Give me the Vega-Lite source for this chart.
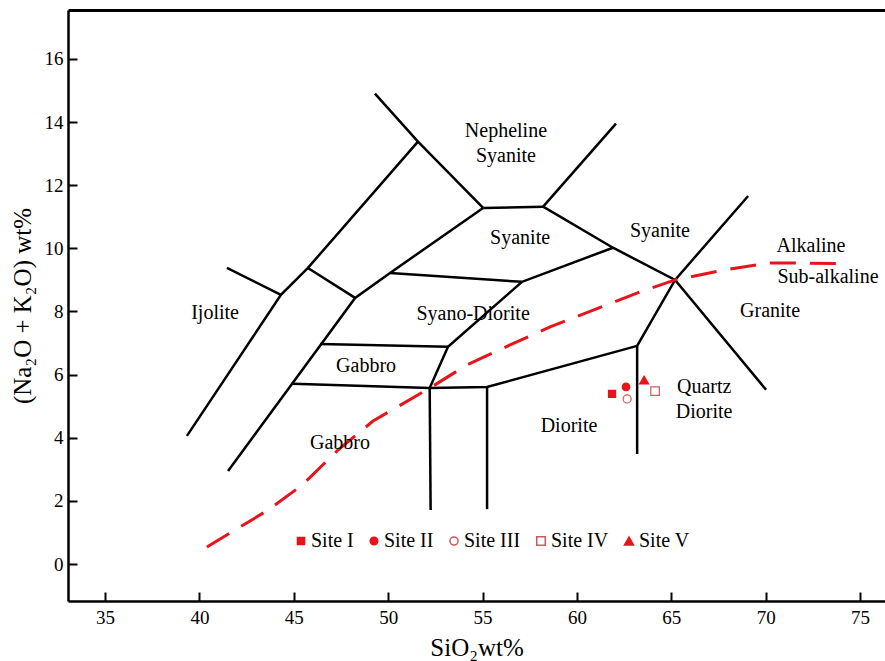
{
  "$schema": "https://vega.github.io/schema/vega-lite/v6.json",
  "width": 817,
  "height": 591,
  "autosize": {"type": "none"},
  "padding": {"left": 68, "top": 10, "right": 0, "bottom": 60},
  "background": "white",
  "config": {
    "view": {"stroke": null},
    "font": "Liberation Serif",
    "axis": {
      "grid": false,
      "domainColor": "black",
      "domainWidth": 2.5,
      "tickColor": "black",
      "tickWidth": 2,
      "labelColor": "black",
      "labelFont": "Liberation Serif",
      "labelFontSize": 19,
      "titleFont": "Liberation Serif",
      "titleFontWeight": "normal",
      "titleColor": "black",
      "titleFontSize": 25
    },
    "legend": {
      "labelFont": "Liberation Serif",
      "labelFontSize": 20,
      "labelColor": "black"
    }
  },
  "datasets": {
    "bounds": [
      {"g": "L1", "o": 1, "x": 39.34, "y": 4.06},
      {"g": "L1", "o": 2, "x": 44.32, "y": 8.53},
      {"g": "L1", "o": 3, "x": 45.75, "y": 9.38},
      {"g": "L1", "o": 4, "x": 51.58, "y": 13.38},
      {"g": "L2", "o": 1, "x": 41.46, "y": 9.38},
      {"g": "L2", "o": 2, "x": 44.32, "y": 8.53},
      {"g": "L3", "o": 1, "x": 45.75, "y": 9.38},
      {"g": "L3", "o": 2, "x": 48.25, "y": 8.43},
      {"g": "L4", "o": 1, "x": 41.52, "y": 2.95},
      {"g": "L4", "o": 2, "x": 48.25, "y": 8.43},
      {"g": "L4", "o": 3, "x": 50.10, "y": 9.22},
      {"g": "L4", "o": 4, "x": 55.03, "y": 11.28},
      {"g": "L5", "o": 1, "x": 49.30, "y": 14.90},
      {"g": "L5", "o": 2, "x": 51.58, "y": 13.38},
      {"g": "L5", "o": 3, "x": 55.03, "y": 11.28},
      {"g": "L6", "o": 1, "x": 55.03, "y": 11.28},
      {"g": "L6", "o": 2, "x": 58.21, "y": 11.32},
      {"g": "L7", "o": 1, "x": 58.21, "y": 11.32},
      {"g": "L7", "o": 2, "x": 62.07, "y": 13.95},
      {"g": "L8", "o": 1, "x": 58.21, "y": 11.32},
      {"g": "L8", "o": 2, "x": 61.91, "y": 10.02},
      {"g": "L8", "o": 3, "x": 65.20, "y": 9.00},
      {"g": "L8", "o": 4, "x": 70.02, "y": 5.52},
      {"g": "L9", "o": 1, "x": 50.10, "y": 9.22},
      {"g": "L9", "o": 2, "x": 57.09, "y": 8.94},
      {"g": "L9", "o": 3, "x": 61.91, "y": 10.02},
      {"g": "L10", "o": 1, "x": 57.09, "y": 8.94},
      {"g": "L10", "o": 2, "x": 53.17, "y": 6.88},
      {"g": "L10", "o": 3, "x": 52.20, "y": 5.58},
      {"g": "L11", "o": 1, "x": 46.39, "y": 6.97},
      {"g": "L11", "o": 2, "x": 53.17, "y": 6.88},
      {"g": "L12", "o": 1, "x": 44.96, "y": 5.71},
      {"g": "L12", "o": 2, "x": 52.20, "y": 5.58},
      {"g": "L12", "o": 3, "x": 55.24, "y": 5.61},
      {"g": "L12", "o": 4, "x": 63.19, "y": 6.91},
      {"g": "L13", "o": 1, "x": 69.07, "y": 11.66},
      {"g": "L13", "o": 2, "x": 65.20, "y": 9.00},
      {"g": "L13", "o": 3, "x": 63.19, "y": 6.91},
      {"g": "L13", "o": 4, "x": 63.19, "y": 3.49},
      {"g": "L14", "o": 1, "x": 52.20, "y": 5.58},
      {"g": "L14", "o": 2, "x": 52.25, "y": 1.71},
      {"g": "L15", "o": 1, "x": 55.24, "y": 5.61},
      {"g": "L15", "o": 2, "x": 55.24, "y": 1.74}
    ],
    "alk": [
      {"o": 1, "x": 40.40, "y": 0.54},
      {"o": 2, "x": 43.64, "y": 1.71},
      {"o": 3, "x": 45.44, "y": 2.50},
      {"o": 4, "x": 47.34, "y": 3.61},
      {"o": 5, "x": 49.20, "y": 4.53},
      {"o": 6, "x": 52.22, "y": 5.58},
      {"o": 7, "x": 54.18, "y": 6.31},
      {"o": 8, "x": 56.46, "y": 6.94},
      {"o": 9, "x": 58.58, "y": 7.51},
      {"o": 10, "x": 63.34, "y": 8.62},
      {"o": 11, "x": 65.20, "y": 9.00},
      {"o": 12, "x": 67.85, "y": 9.32},
      {"o": 13, "x": 70.23, "y": 9.54},
      {"o": 14, "x": 74.10, "y": 9.52}
    ],
    "labels": [
      {"t": "Nepheline\nSyanite", "x": 56.24, "y": 13.72},
      {"t": "Syanite", "x": 56.99, "y": 10.33},
      {"t": "Syanite", "x": 64.40, "y": 10.55},
      {"t": "Alkaline", "x": 72.40, "y": 10.08},
      {"t": "Sub-alkaline", "x": 73.30, "y": 9.10},
      {"t": "Ijolite", "x": 40.83, "y": 7.96},
      {"t": "Syano-Diorite", "x": 54.50, "y": 7.92},
      {"t": "Granite", "x": 70.23, "y": 8.02},
      {"t": "Gabbro", "x": 48.83, "y": 6.28},
      {"t": "Quartz\nDiorite", "x": 66.74, "y": 5.61},
      {"t": "Diorite", "x": 59.58, "y": 4.37},
      {"t": "Gabbro", "x": 47.45, "y": 3.84}
    ],
    "samples": [
      {"site": "Site I", "x": 61.86, "y": 5.39},
      {"site": "Site II", "x": 62.60, "y": 5.61},
      {"site": "Site III", "x": 62.66, "y": 5.23},
      {"site": "Site IV", "x": 64.14, "y": 5.48},
      {"site": "Site V", "x": 63.56, "y": 5.83}
    ]
  },
  "layer": [
    {
      "data": {"name": "bounds"},
      "mark": {"type": "line", "color": "black", "strokeWidth": 2.5, "strokeCap": "butt"},
      "encoding": {
        "x": {
          "field": "x", "type": "quantitative",
          "scale": {"domain": [33.04, 76.32], "nice": false, "zero": false},
          "axis": {
            "orient": "bottom",
            "values": [35, 40, 45, 50, 55, 60, 65, 70, 75],
            "tickSize": -9,
            "labelPadding": 16,
            "title": "SiO₂wt%",
            "titlePadding": 8
          }
        },
        "y": {
          "field": "y", "type": "quantitative",
          "scale": {"domain": [-1.17, 17.55], "nice": false, "zero": false},
          "axis": {
            "values": [0, 2, 4, 6, 8, 10, 12, 14, 16],
            "tickSize": -9,
            "labelPadding": 14,
            "title": "(Na₂O + K₂O) wt%",
            "titlePadding": 9
          }
        },
        "detail": {"field": "g"},
        "order": {"field": "o"}
      }
    },
    {
      "data": {"name": "alk"},
      "mark": {"type": "line", "color": "#e8131b", "strokeWidth": 3, "strokeDash": [26, 14]},
      "encoding": {
        "x": {"field": "x", "type": "quantitative", "axis": {"orient": "top", "labels": false, "ticks": false, "title": null, "domainWidth": 3}},
        "y": {"field": "y", "type": "quantitative", "axis": null},
        "order": {"field": "o"}
      }
    },
    {
      "data": {"name": "labels"},
      "mark": {"type": "text", "font": "Liberation Serif", "fontSize": 20, "color": "black", "lineBreak": "\n", "lineHeight": 25, "baseline": "middle", "align": "center"},
      "encoding": {
        "x": {"field": "x", "type": "quantitative", "axis": null},
        "y": {"field": "y", "type": "quantitative", "axis": null},
        "text": {"field": "t"}
      }
    },
    {
      "data": {"name": "samples"},
      "mark": {"type": "point", "opacity": 1, "fillOpacity": 1, "strokeWidth": 1.2},
      "encoding": {
        "x": {"field": "x", "type": "quantitative", "axis": null},
        "y": {"field": "y", "type": "quantitative", "axis": null},
        "shape": {
          "field": "site", "type": "nominal",
          "scale": {"domain": ["Site I", "Site II", "Site III", "Site IV", "Site V"], "range": ["square", "circle", "circle", "square", "triangle-up"]},
          "legend": {"title": null, "orient": "none", "legendX": 223, "legendY": 521, "direction": "horizontal", "columnPadding": 10, "labelOffset": 0}
        },
        "fill": {
          "field": "site", "type": "nominal",
          "scale": {"domain": ["Site I", "Site II", "Site III", "Site IV", "Site V"], "range": ["#e8131b", "#e8131b", "#ffffff", "#ffffff", "#e8131b"]},
          "legend": {"title": null, "orient": "none", "legendX": 223, "legendY": 521, "direction": "horizontal", "columnPadding": 10, "labelOffset": 0}
        },
        "stroke": {
          "field": "site", "type": "nominal",
          "scale": {"domain": ["Site I", "Site II", "Site III", "Site IV", "Site V"], "range": ["#e8131b", "#e8131b", "#d0585a", "#d0585a", "#e8131b"]},
          "legend": {"title": null, "orient": "none", "legendX": 223, "legendY": 521, "direction": "horizontal", "columnPadding": 10, "labelOffset": 0}
        },
        "size": {
          "field": "site", "type": "nominal",
          "scale": {"domain": ["Site I", "Site II", "Site III", "Site IV", "Site V"], "range": [50, 81, 81, 45, 90]},
          "legend": {"title": null, "orient": "none", "legendX": 223, "legendY": 521, "direction": "horizontal", "columnPadding": 10, "labelOffset": 0}
        }
      }
    }
  ],
  "resolve": {"axis": {"x": "independent", "y": "independent"}}
}
